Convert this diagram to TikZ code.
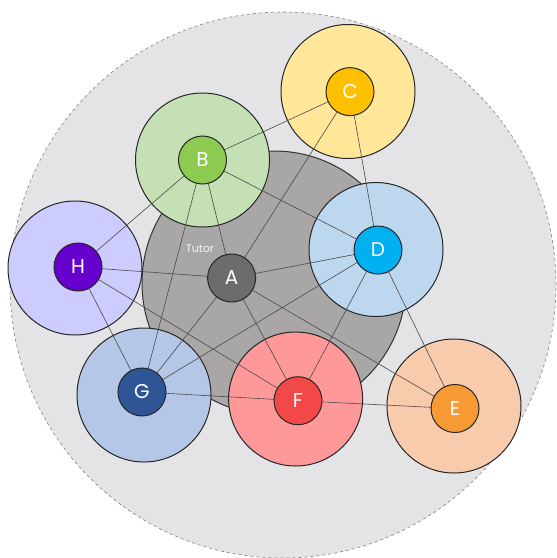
\documentclass[tikz,border=0pt]{standalone}
\usepackage{fontspec}
\setmainfont{Poppins}
\pgfdeclarelayer{bg}
\pgfdeclarelayer{edges}
\pgfsetlayers{bg,edges,main}
\definecolor{outerc}{HTML}{E4E3E5}
\definecolor{tutorc}{HTML}{A9A6A6}
\definecolor{Ac}{HTML}{6E6B6B}
\definecolor{Bbig}{HTML}{C5E0B4}\definecolor{Bsm}{HTML}{8CCB50}
\definecolor{Cbig}{HTML}{FFE699}\definecolor{Csm}{HTML}{FFC000}
\definecolor{Dbig}{HTML}{BDD7EE}\definecolor{Dsm}{HTML}{00B0F0}
\definecolor{Ebig}{HTML}{F8CBAD}\definecolor{Esm}{HTML}{F79A33}
\definecolor{Fbig}{HTML}{FF9999}\definecolor{Fsm}{HTML}{F24848}
\definecolor{Gbig}{HTML}{B4C7E7}\definecolor{Gsm}{HTML}{2F5597}
\definecolor{Hbig}{HTML}{CCCCFF}\definecolor{Hsm}{HTML}{6600CC}
\definecolor{edgec}{HTML}{4A4A4A}
\begin{document}
\begin{tikzpicture}[x=1pt,y=-1pt,
  bigc/.style={circle,draw=black!85,line width=1pt,minimum size=134pt,inner sep=0pt},
  smallc/.style={circle,draw=black!85,line width=1pt,minimum size=48pt,inner sep=0pt,text=white,font=\fontsize{20}{20}\selectfont},
  link/.style={draw=edgec,line width=0.6pt}]
\useasboundingbox (0,0) rectangle (557,558);
\begin{pgfonlayer}{bg}
  \node[circle,fill=outerc,draw=gray,dashed,line width=0.6pt,minimum size=546pt,inner sep=0pt] (outer) at (283,285) {};
  \node[circle,fill=tutorc,draw=black!80,line width=1pt,minimum size=264pt,inner sep=0pt] (tutor) at (274,283) {};
  \node[bigc,fill=Bbig] (Bo) at (202.5,160) {};
  \node[bigc,fill=Cbig] (Co) at (348,91.5) {};
  \node[bigc,fill=Dbig] (Do) at (376,249.5) {};
  \node[bigc,fill=Ebig] (Eo) at (454,406) {};
  \node[bigc,fill=Gbig] (Go) at (144,395) {};
  \node[bigc,fill=Fbig] (Fo) at (295.6,399) {};
  \node[bigc,fill=Hbig] (Ho) at (75,268) {};
  \node[text=white!93!gray,font=\fontsize{11}{11}\selectfont] (tutorlabel) at (200,249) {Tutor};
\end{pgfonlayer}
\node[smallc,fill=Ac] (A) at (231.6,278) {A};
\node[smallc,fill=Bsm] (B) at (202.5,160) {B};
\node[smallc,fill=Csm] (C) at (350,91.6) {C};
\node[smallc,fill=Dsm] (D) at (378,250) {D};
\node[smallc,fill=Esm] (E) at (455,408.5) {E};
\node[smallc,fill=Fsm] (F) at (298,400.7) {F};
\node[smallc,fill=Gsm] (G) at (142,392) {G};
\node[smallc,fill=Hsm] (H) at (78,267) {H};
\begin{pgfonlayer}{edges}
  \foreach \u/\v in {B/C,B/H,B/G,B/A,B/D,C/A,C/D,D/A,D/G,D/F,D/E,H/A,H/F,H/G,A/G,A/F,A/E,G/F,F/E}
    \draw[link] (\u.center) -- (\v.center);
\end{pgfonlayer}
\end{tikzpicture}
\end{document}
